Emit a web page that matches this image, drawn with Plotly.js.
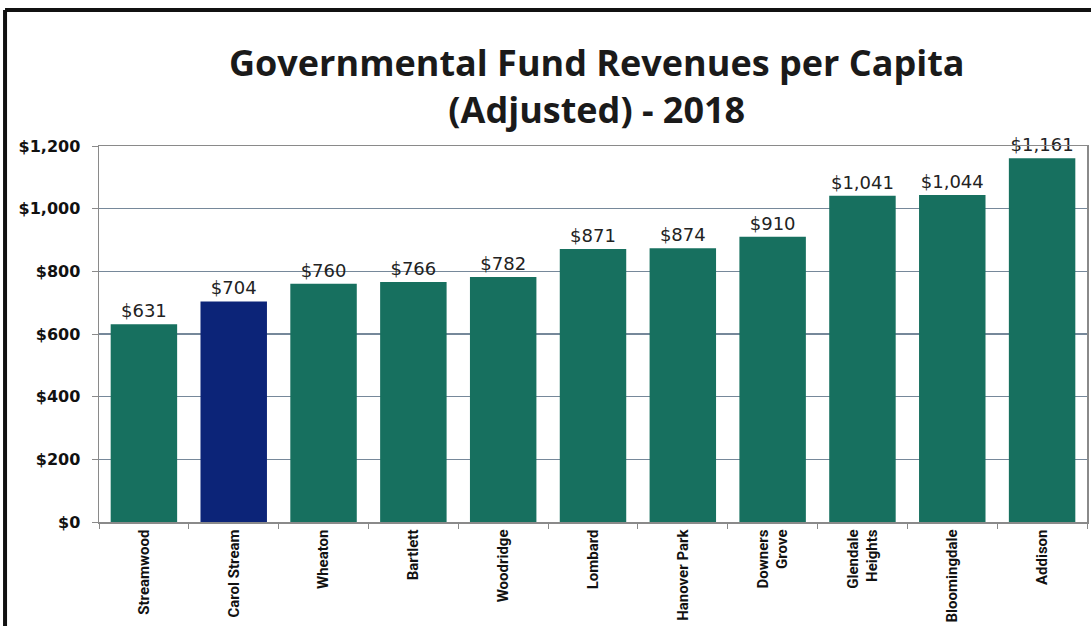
<!DOCTYPE html>
<html>
<head>
<meta charset="utf-8">
<script src="https://cdn.plot.ly/plotly-3.0.1.min.js"></script>
<style>html,body{margin:0;padding:0;background:#fff;}#chart{width:1091px;height:626px;}</style>
</head>
<body>
<div id="chart"></div>
<script>
const categories = ["Streamwood","Carol Stream","Wheaton","Bartlett","Woodridge","Lombard","Hanover Park","Downers<br>Grove","Glendale<br>Heights","Bloomingdale","Addison"];
const values = [631,704,760,766,782,871,874,910,1041,1044,1161];
const valueLabels = ["$631","$704","$760","$766","$782","$871","$874","$910","$1,041","$1,044","$1,161"];
const yTickVals = [0,200,400,600,800,1000,1200];
const yTickText = ["$0","$200","$400","$600","$800","$1,000","$1,200"];
const highlight = "Carol Stream";

const colors = categories.map(c => c === highlight ? "#0c2478" : "#17705f");

const trace = {
  type: "bar",
  x: categories,
  y: values,
  text: valueLabels,
  textposition: "outside",
  cliponaxis: false,
  textfont: {family: "DejaVu Sans, Verdana, sans-serif", size: 18, color: "#222"},
  marker: {color: colors, line: {width: 0}},
  hoverinfo: "skip"
};

const layout = {
  width: 1091, height: 626,
  margin: {l: 99, r: 4, t: 146, b: 104},
  paper_bgcolor: "#fff", plot_bgcolor: "#fff",
  showlegend: false,
  bargap: 0.26,
  title: {
    text: "<b>Governmental Fund Revenues per Capita<br>(Adjusted) - 2018</b>",
    font: {family: "Open Sans, Liberation Sans, sans-serif", size: 36, color: "#1a1a1a"},
    x: 0.547, xanchor: "center", y: 0.878, yanchor: "top", yref: "container"
  },
  xaxis: {
    type: "category",
    tickangle: -90,
    tickfont: {family: "Liberation Sans Narrow, Roboto, sans-serif", size: 15, color: "#111", weight: "bold"},
    showline: true, linecolor: "#8a8a8a", linewidth: 1.5, mirror: true,
    ticks: "outside", ticklen: 5, tickcolor: "#8a8a8a", tickson: "boundaries",
    showgrid: false, fixedrange: true
  },
  yaxis: {
    range: [0, 1200],
    tickvals: yTickVals, ticktext: yTickText,
    tickfont: {family: "DejaVu Sans, Verdana, sans-serif", size: 16, color: "#111", weight: "bold"},
    ticklabelstandoff: 8,
    showline: true, linecolor: "#8a8a8a", linewidth: 1.5, mirror: true,
    ticks: "outside", ticklen: 6, tickcolor: "#8a8a8a",
    showgrid: true, gridcolor: "#76889a", gridwidth: 1.5,
    zeroline: false, fixedrange: true
  },
  shapes: [
    {type: "line", xref: "paper", yref: "paper", x0: -0.0951, x1: 1.01, y0: 1.3617, y1: 1.3617, line: {color: "#111", width: 4}},
    {type: "line", xref: "paper", yref: "paper", x0: -0.0951, x1: -0.0951, y0: 1.3617, y1: -0.3, line: {color: "#111", width: 4}}
  ]
};

Plotly.newPlot("chart", [trace], layout, {displayModeBar: false, staticPlot: true});
</script>
</body>
</html>
